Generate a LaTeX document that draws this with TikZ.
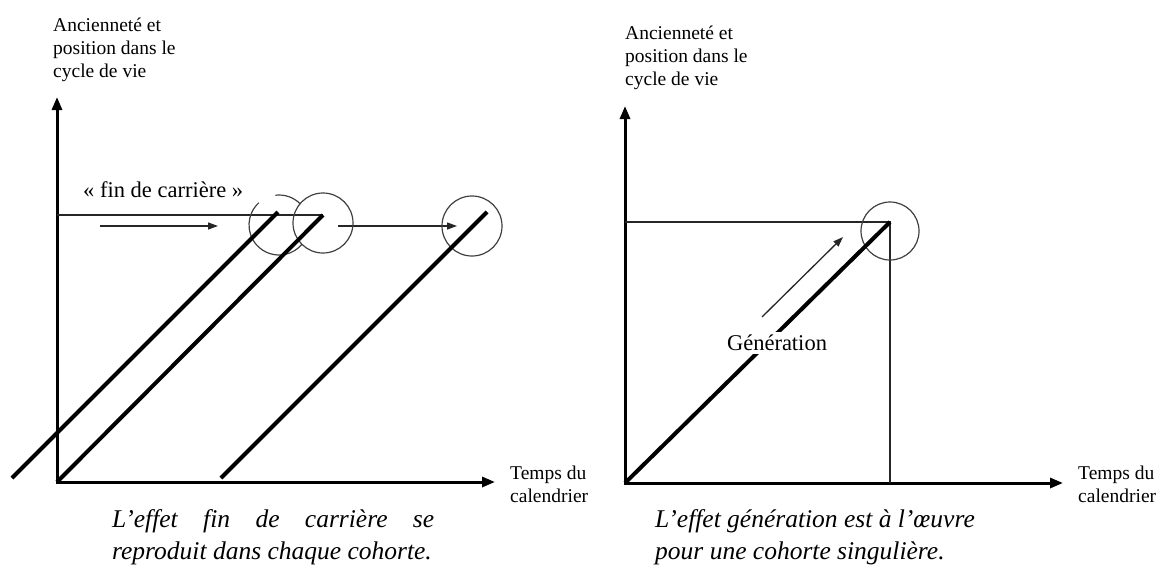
\documentclass[tikz,border=0pt]{standalone}
\usepackage{fontspec}
\setmainfont{Liberation Serif}
\usetikzlibrary{arrows.meta}
\begin{document}
\begin{tikzpicture}[x=1pt,y=-1pt,
  axes/.style={line width=3pt,{Triangle[length=13pt,width=10pt]}-{Triangle[length=13pt,width=10pt]}},
  cohort/.style={line width=4pt},
  thinline/.style={line width=1.3pt,black!85},
  thinarrow/.style={thinline,-{Triangle[length=10pt,width=7pt]}},
  ring/.style={line width=1.2pt,black!75},
  axislabel/.style={font=\fontsize{19.5}{23}\selectfont,align=left,inner sep=0pt,anchor=north west},
  caption/.style={font=\fontsize{25.5}{32}\selectfont\itshape,align=left,inner sep=0pt,anchor=north west},
  tag/.style={font=\fontsize{22.5}{26}\selectfont,inner sep=0pt}
]
\useasboundingbox (0,0) rectangle (1158,574);

% ---------- left panel: career-end effect ----------
\coordinate (O1) at (57,482);
\coordinate (Y1) at (57,97);
\coordinate (X1) at (495,482);
\coordinate (H1) at (57,215);
\coordinate (A0) at (12,478);  \coordinate (A1) at (278,212);
\coordinate (B1) at (323,215);
\coordinate (C0) at (221,478); \coordinate (C1) at (487,212);
\coordinate (c1) at (279,225);
\coordinate (c2) at (323,223);
\coordinate (c3) at (472,226);
\coordinate (s0) at (100,226); \coordinate (s1) at (218,226);
\coordinate (m0) at (338,226); \coordinate (m1) at (457,226);

\draw[axes] (Y1) -- (O1) -- (X1);
\draw[thinline] (H1) -- (B1);
\draw[thinarrow] (s0) -- (s1);
\draw[thinarrow] (m0) -- (m1);

% circles around the end of each cohort line
\draw[ring] (c1) ++(-45:30) arc[start angle=-45,end angle=-97,radius=30];
\draw[ring] (c1) ++(-132:30) arc[start angle=-132,end angle=-320,radius=30];
\draw[ring] (c2) circle[radius=30];
\draw[ring] (c3) circle[radius=30];

\draw[cohort] (A0) -- (A1);
\draw[cohort] (O1) -- (B1);
\draw[cohort] (C0) -- (C1);

\node[tag,anchor=base west] (fin) at (83,197) {«~fin de carrière~»};
\node[axislabel] (ylab1) at (53,18) {Ancienneté et\\position dans le\\cycle de vie};
\node[axislabel] (xlab1) at (510,466) {Temps du\\calendrier};
\node[caption] (cap1) at (112,509)
  {\makebox[322pt][s]{L’effet fin de carrière se}\\reproduit dans chaque cohorte.};

% ---------- right panel: generation effect ----------
\coordinate (O2) at (625,483);
\coordinate (Y2) at (625,106);
\coordinate (X2) at (1063,483);
\coordinate (P) at (890,222);
\coordinate (H2) at (625,222);
\coordinate (V2) at (890,483);
\coordinate (c4) at (890,231);
\coordinate (g0) at (762,317); \coordinate (g1) at (843,237);

\draw[axes] (Y2) -- (O2) -- (X2);
\draw[thinline] (H2) -- (P) -- (V2);
\draw[ring] (c4) circle[radius=29];
\draw[thinarrow] (g0) -- (g1);
\draw[cohort] (O2) -- (P);
\node[tag,fill=white,inner sep=3pt] (gen) at (777,343) {Génération};

\node[axislabel] (ylab2) at (625,26) {Ancienneté et\\position dans le\\cycle de vie};
\node[axislabel] (xlab2) at (1078,466) {Temps du\\calendrier};
\node[caption] (cap2) at (655,509)
  {L’effet génération est à l’œuvre\\pour une cohorte singulière.};
\end{tikzpicture}
\end{document}
